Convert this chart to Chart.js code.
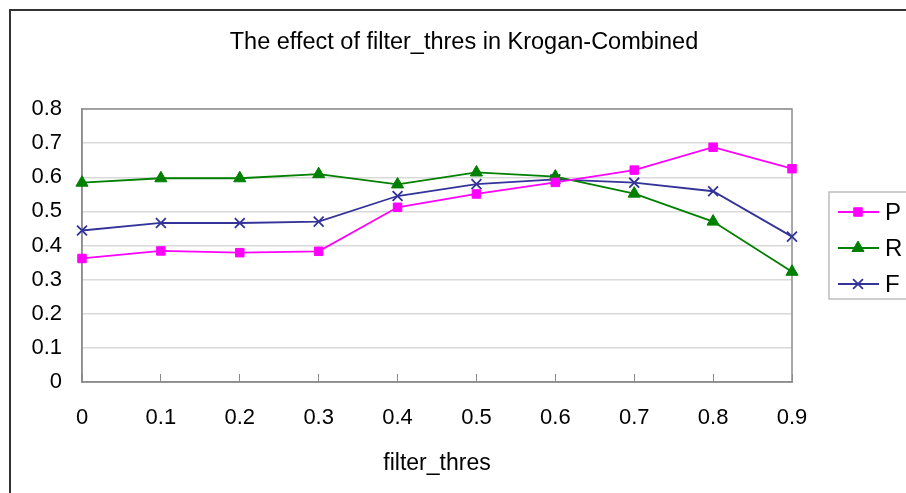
<!DOCTYPE html>
<html>
<head>
<meta charset="utf-8">
<script src="https://cdn.jsdelivr.net/npm/chart.js@4"></script>
<style>
  html, body { margin: 0; padding: 0; background: #fff; }
  #wrap { width: 906px; height: 493px; }
</style>
</head>
<body>
<div id="wrap"><canvas id="chart" width="906" height="493"></canvas></div>
<script>
'use strict';

// ── Data ──────────────────────────────────────────────────────
const thresholds = ['0', '0.1', '0.2', '0.3', '0.4', '0.5', '0.6', '0.7', '0.8', '0.9'];
const precision  = [0.362, 0.384, 0.379, 0.383, 0.512, 0.551, 0.585, 0.621, 0.688, 0.625];
const recall     = [0.584, 0.597, 0.597, 0.609, 0.579, 0.614, 0.602, 0.552, 0.470, 0.323];
const fmeasure   = [0.444, 0.466, 0.466, 0.470, 0.545, 0.580, 0.594, 0.584, 0.559, 0.426];
const yTicks     = [0, 0.1, 0.2, 0.3, 0.4, 0.5, 0.6, 0.7, 0.8];

const FONT = '"Liberation Sans", Arial, sans-serif';

// ── Frame, plot border & legend ───────────────────────────────
const decorations = {
  id: 'decorations',
  beforeDraw(chart) {
    const { ctx } = chart;
    ctx.save();
    ctx.fillStyle = '#fff';
    ctx.fillRect(0, 0, chart.width, chart.height);
    ctx.strokeStyle = '#333';
    ctx.lineWidth = 2;
    ctx.strokeRect(10, 10, 1000, 1000);
    ctx.restore();
  },
  beforeDatasetsDraw(chart) {
    const { ctx, chartArea: a } = chart;
    ctx.save();
    ctx.strokeStyle = '#8c8c8c';
    ctx.lineWidth = 1.5;
    ctx.strokeRect(a.left, a.top, a.right - a.left, a.bottom - a.top);
    ctx.restore();
  },
  afterDraw(chart) {
    const { ctx } = chart;
    ctx.save();
    ctx.strokeStyle = '#bdbdbd';
    ctx.lineWidth = 1.5;
    ctx.strokeRect(829, 192, 200, 107);
    const rows = [212, 248, 284];
    chart.data.datasets.forEach((ds, i) => {
      const y = rows[i];
      ctx.strokeStyle = ds.borderColor;
      ctx.lineWidth = ds.borderWidth;
      ctx.beginPath();
      ctx.moveTo(838, y);
      ctx.lineTo(879, y);
      ctx.stroke();
      ctx.fillStyle = ds.pointBackgroundColor;
      ctx.strokeStyle = ds.pointBorderColor;
      ctx.lineWidth = ds.pointBorderWidth;
      Chart.helpers.drawPoint(ctx, {
        pointStyle: ds.pointStyle,
        radius: ds.pointRadius,
        borderWidth: ds.pointBorderWidth
      }, 858, y);
      ctx.fillStyle = '#000';
      ctx.font = '24px ' + FONT;
      ctx.textBaseline = 'middle';
      ctx.textAlign = 'left';
      ctx.fillText(ds.label, 885, y + 1);
    });
    ctx.restore();
  }
};

// ── Chart ─────────────────────────────────────────────────────
const mkSet = (label, data, color, style, radius) => ({
  label,
  data,
  borderColor: color,
  backgroundColor: color,
  pointBackgroundColor: color,
  pointBorderColor: color,
  borderWidth: 1.8,
  pointStyle: style,
  pointRadius: radius,
  pointBorderWidth: style === 'crossRot' ? 1.8 : 1,
  tension: 0
});

new Chart(document.getElementById('chart'), {
  type: 'line',
  data: {
    labels: thresholds,
    datasets: [
      mkSet('P', precision, '#ff00ff', 'rect', 6),
      mkSet('R', recall, '#008000', 'triangle', 7),
      mkSet('F', fmeasure, '#333399', 'crossRot', 7)
    ]
  },
  options: {
    responsive: false,
    animation: false,
    layout: { padding: { left: 22, right: 0, top: 0, bottom: 0 } },
    plugins: {
      legend: { display: false },
      tooltip: { enabled: false },
      title: {
        display: true,
        text: 'The effect of filter_thres in Krogan-Combined',
        color: '#000',
        font: { family: FONT, size: 23.5, weight: 'normal', lineHeight: 1.2 },
        padding: { top: 28, bottom: 52.8 }
      }
    },
    scales: {
      x: {
        offset: false,
        grid: { display: true, drawOnChartArea: false, drawTicks: true, tickLength: -8, color: '#8c8c8c', lineWidth: 1 },
        border: { display: true, color: '#8c8c8c', width: 1.5 },
        ticks: { color: '#000', font: { family: FONT, size: 22 }, padding: 31, maxRotation: 0 },
        title: {
          display: true,
          text: 'filter_thres',
          color: '#000',
          font: { family: FONT, size: 23, weight: 'normal', lineHeight: 1.2 },
          padding: { top: 0, bottom: 16 }
        },
        afterFit: s => { s.height = 111; }
      },
      y: {
        min: 0,
        max: 0.8,
        afterBuildTicks: s => { s.ticks = yTicks.map(v => ({ value: v })); },
        grid: { color: '#d9d9d9', lineWidth: 1.5, drawTicks: false },
        border: { display: true, color: '#8c8c8c', width: 1.5 },
        ticks: { color: '#000', font: { family: FONT, size: 22 }, padding: 20, callback: v => String(v) },
        afterFit: s => { s.width = 60; }
      },
      yRight: {
        position: 'right',
        display: true,
        grid: { display: false, drawTicks: false },
        border: { display: false },
        ticks: { display: false },
        afterFit: s => { s.width = 114; }
      }
    }
  },
  plugins: [decorations]
});
</script>
</body>
</html>
